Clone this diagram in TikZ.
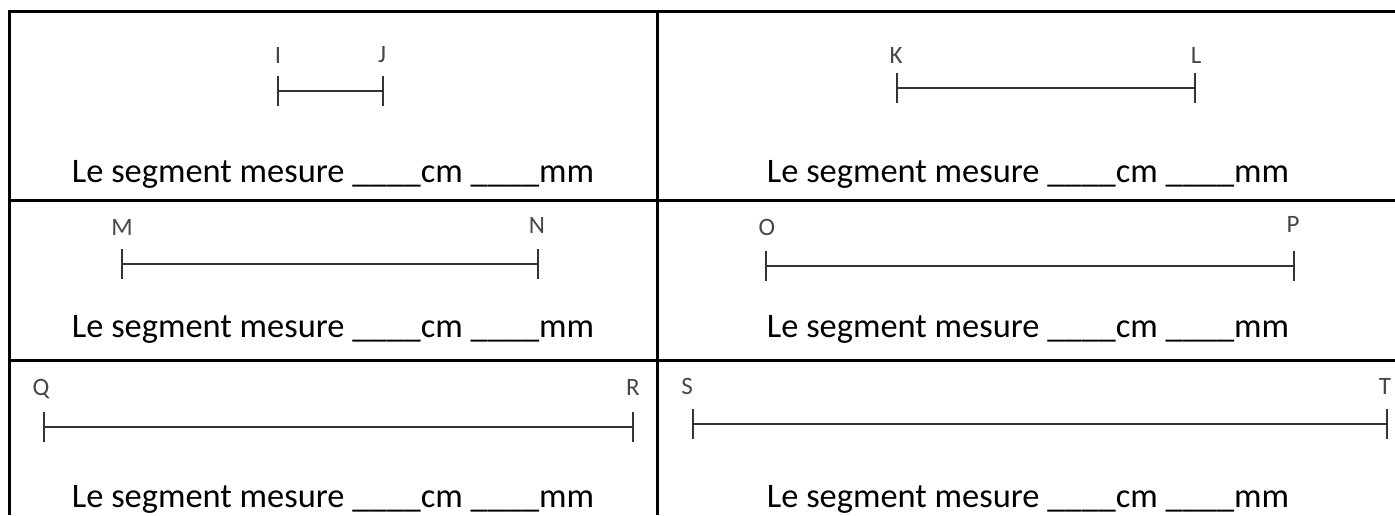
\documentclass[tikz,border=0pt]{standalone}
\usepackage{fontspec}
\setmainfont{Carlito}
\usetikzlibrary{arrows.meta}
\tikzset{
  frame/.style={line width=3pt, black},
  seg/.style={line width=1.8pt, color=black!80, {Bar[width=30pt,line width=1.8pt]}-{Bar[width=30pt,line width=1.8pt]}},
  lbl/.style={inner sep=0pt, text=black!72, font=\fontsize{25}{27}\selectfont},
  txt/.style={inner sep=0pt, anchor=base, font=\fontsize{34.4}{40}\selectfont}
}
\begin{document}
\begin{tikzpicture}[x=1pt,y=-1pt]
\useasboundingbox (0,0) rectangle (1395,515);
% table frame
\coordinate (tl) at (9,11);
\coordinate (tr) at (1395,11);
\coordinate (bl) at (9,515);
\coordinate (mt) at (657,11);
\coordinate (mb) at (657,515);
\coordinate (r1l) at (9,200);
\coordinate (r1r) at (1395,200);
\coordinate (r2l) at (9,360);
\coordinate (r2r) at (1395,360);
\draw[frame] (bl) -- (tl) -- (tr);
\draw[frame] (mt) -- (mb);
\draw[frame] (r1l) -- (r1r);
\draw[frame] (r2l) -- (r2r);
% row 1
\coordinate (I) at (277,91);
\coordinate (J) at (384,91);
\draw[seg] (I) -- (J);
\node[lbl] (lI) at (278,55) {I};
\node[lbl] (lJ) at (382,55) {J};
\coordinate (K) at (896,88);
\coordinate (L) at (1196,88);
\draw[seg] (K) -- (L);
\node[lbl] (lK) at (896,55) {K};
\node[lbl] (lL) at (1196,55) {L};
\node[txt] (t1) at (333,182) {Le segment mesure \_\_\_\_cm \_\_\_\_mm};
\node[txt] (t2) at (1028,182) {Le segment mesure \_\_\_\_cm \_\_\_\_mm};
% row 2
\coordinate (M) at (121,264);
\coordinate (N) at (539,264);
\draw[seg] (M) -- (N);
\node[lbl] (lM) at (122,227) {M};
\node[lbl] (lN) at (537,225) {N};
\coordinate (O) at (765,266);
\coordinate (P) at (1295,266);
\draw[seg] (O) -- (P);
\node[lbl] (lO) at (767,227) {O};
\node[lbl] (lP) at (1293,224) {P};
\node[txt] (t3) at (333,337) {Le segment mesure \_\_\_\_cm \_\_\_\_mm};
\node[txt] (t4) at (1028,337) {Le segment mesure \_\_\_\_cm \_\_\_\_mm};
% row 3
\coordinate (Q) at (43,427);
\coordinate (R) at (634,427);
\draw[seg] (Q) -- (R);
\node[lbl] (lQ) at (41,389) {Q};
\node[lbl] (lR) at (633,387) {R};
\coordinate (S) at (692,424);
\coordinate (T) at (1388,424);
\draw[seg] (S) -- (T);
\node[lbl] (lS) at (687,386) {S};
\node[lbl] (lT) at (1385,386) {T};
\node[txt] (t5) at (333,507) {Le segment mesure \_\_\_\_cm \_\_\_\_mm};
\node[txt] (t6) at (1028,507) {Le segment mesure \_\_\_\_cm \_\_\_\_mm};
\end{tikzpicture}
\end{document}
